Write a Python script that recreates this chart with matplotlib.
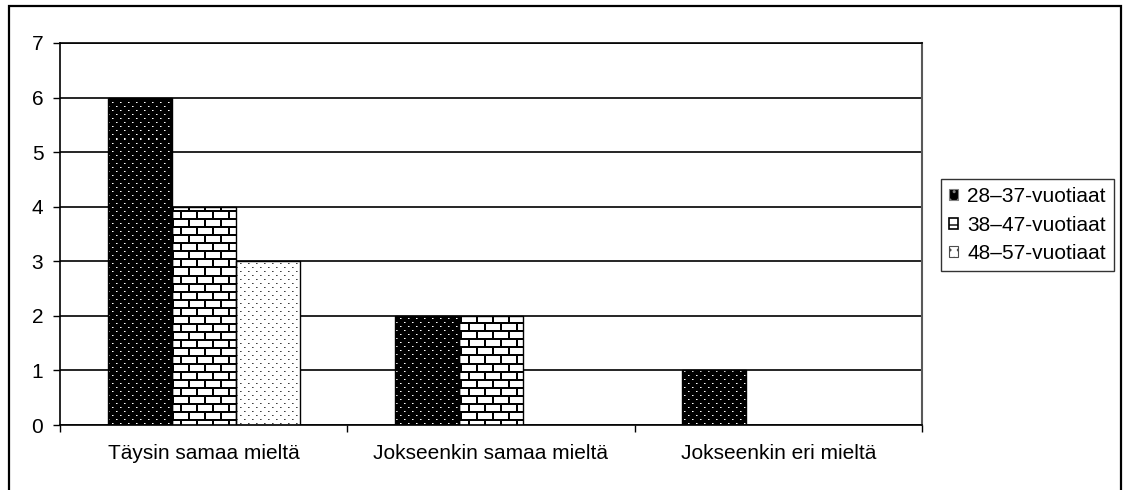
import numpy as np
import matplotlib.pyplot as plt
from matplotlib.patches import Patch, Rectangle

plt.rcParams['font.family'] = ['Liberation Sans', 'DejaVu Sans']

categories = ['Täysin samaa mieltä', 'Jokseenkin samaa mieltä', 'Jokseenkin eri mieltä']
series_names = ['28–37-vuotiaat', '38–47-vuotiaat', '48–57-vuotiaat']
values_2837 = [6, 2, 1]
values_3847 = [4, 2, 0]
values_4857 = [3, 0, 0]

W, H = 1123, 490
fig = plt.figure(figsize=(W / 100, H / 100), dpi=100)
ax = fig.add_axes([60 / W, (H - 425) / H, (922 - 60) / W, (425 - 43) / H])

# outer frame of the chart
fig.patches.append(Rectangle((9 / W, -0.05), (1121 - 9) / W, (H - 6) / H + 0.05,
                             transform=fig.transFigure, fill=False,
                             edgecolor='black', linewidth=1.6, zorder=0))

ax.set_xlim(-0.5, 2.5)
ax.set_ylim(0, 7)
ax.set_axisbelow(True)
ax.yaxis.grid(True, color='black', linewidth=1.2)

# pattern textures, one pixel per screen pixel
axw = 922 - 60
axh = 425 - 43
yy, xx = np.mgrid[0:axh, 0:axw]

tex_dark = np.zeros((axh, axw))
tex_dark[((xx % 8 == 0) & (yy % 8 == 0)) | ((xx % 8 == 4) & (yy % 8 == 4))] = 1.0
tex_dark[((xx % 8 == 1) & (yy % 8 == 0)) | ((xx % 8 == 5) & (yy % 8 == 4))] = 0.55

tex_brick = np.ones((axh, axw))
tex_brick[(yy % 8) < 2] = 0.0
row = (yy // 8) % 2
tex_brick[(row == 0) & ((xx % 16) < 2)] = 0.0
tex_brick[(row == 1) & (((xx + 8) % 16) < 2)] = 0.0

tex_light = np.ones((axh, axw))
tex_light[((xx % 8 == 0) & (yy % 8 == 0)) | ((xx % 8 == 4) & (yy % 8 == 4))] = 0.25
tex_light[((xx % 8 == 1) & (yy % 8 == 0)) | ((xx % 8 == 5) & (yy % 8 == 4))] = 0.55

x = np.arange(len(categories))
bw = 64 / (axw / 3)
all_vals = [values_2837, values_3847, values_4857]
textures = [tex_dark, tex_brick, tex_light]
for i, (vals, tex) in enumerate(zip(all_vals, textures)):
    bars = ax.bar(x + (i - 1) * bw, vals, bw, facecolor='none',
                  edgecolor='black', linewidth=1.0, zorder=3)
    for b in bars:
        if b.get_height() == 0:
            b.set_visible(False)
            continue
        im = ax.imshow(tex, cmap='gray', vmin=0, vmax=1, interpolation='nearest',
                       extent=(-0.5, 2.5, 0, 7), aspect='auto', zorder=2)
        im.set_clip_path(b)

ax.set_aspect('auto')
ax.set_xlim(-0.5, 2.5)
ax.set_ylim(0, 7)

fs = 15
ax.set_yticks(range(0, 8))
ax.tick_params(axis='y', length=5, width=1, pad=7, labelsize=fs)
ax.set_xticks(x)
ax.set_xticklabels(categories)
ax.tick_params(axis='x', which='major', length=0, pad=14, labelsize=fs)
ax.set_xticks([-0.5, 0.5, 1.5, 2.5], minor=True)
ax.tick_params(axis='x', which='minor', length=5, width=1)

for s in ['left', 'bottom', 'top']:
    ax.spines[s].set_color('black')
    ax.spines[s].set_linewidth(1.2)
ax.spines['right'].set_color('0.35')
ax.spines['right'].set_linewidth(1.5)

handles = [
    Patch(facecolor='black', edgecolor='0.5', hatch='..', linewidth=0.8),
    Patch(facecolor='white', edgecolor='black', hatch='-', linewidth=1.2),
    Patch(facecolor='white', edgecolor='0.3', hatch='..', linewidth=0.8),
]
leg = fig.legend(handles, series_names, loc='upper left',
                 bbox_to_anchor=(941 / W, (H - 179) / H), bbox_transform=fig.transFigure,
                 borderaxespad=0, fontsize=fs, frameon=True, fancybox=False,
                 handlelength=0.42, handleheight=0.42, handletextpad=0.45,
                 labelspacing=0.45, borderpad=0.4)
leg.get_frame().set_edgecolor('black')
leg.get_frame().set_linewidth(1.0)

fig.savefig('out.png', dpi=100)
